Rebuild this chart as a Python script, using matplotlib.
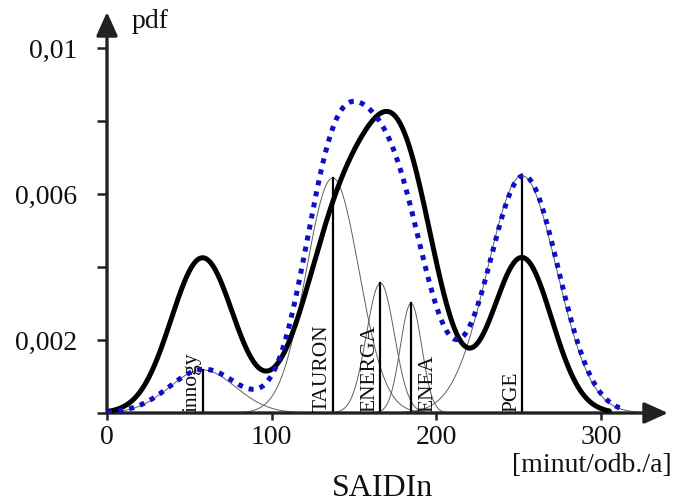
import numpy as np
import matplotlib
matplotlib.use("Agg")
import matplotlib.pyplot as plt

# ---- data ----
operators = ['innogy', 'TAURON', 'ENERGA', 'ENEA', 'PGE']
op_mean = [58, 137, 166, 184.6, 252]
op_sd = [20, 16, 8.5, 6.5, 21]
op_peak = [0.00118, 0.00644, 0.00356, 0.00301, 0.0065]
label_side = ['left', 'left', 'left', 'right', 'left']

# black solid curve: mixture components (mean, sd, peak height)
black_mean = [58, 142, 179, 252]
black_sd = [19, 22, 20.5, 18]
black_peak = [0.00425, 0.0051, 0.0066, 0.00425]

# blue dotted curve: mixture components
blue_mean = [59, 137, 172, 253]
blue_sd = [21, 18.5, 21, 21]
blue_peak = [0.0012, 0.0062, 0.0064, 0.0065]

x_ticks = [0, 100, 200, 300]
x_ticklabels = ['0', '100', '200', '300']
y_ticks = [0, 0.002, 0.004, 0.006, 0.008, 0.01]
y_ticklabels = ['', '0,002', '', '0,006', '', '0,01']


def bump(x, m, s, h):
    return h * np.exp(-(x - m) ** 2 / (2 * s ** 2))


def mixture(x, means, sds, peaks):
    return sum(bump(x, m, s, h) for m, s, h in zip(means, sds, peaks))


serif = 'Liberation Serif'
axc = '#222222'

fig = plt.figure(figsize=(6.75, 5.04), dpi=100)
ax = fig.add_axes([107 / 675, 91 / 504, 561 / 675, 401 / 504])
ax.set_xlim(0, 340.6)
ax.set_ylim(0, 0.010986)
for sp in ax.spines.values():
    sp.set_visible(False)
ax.patch.set_alpha(0)

# thin component curves and vertical mean lines
for name, m, s, h, side in zip(operators, op_mean, op_sd, op_peak, label_side):
    xs = np.linspace(max(0, m - 3.6 * s), m + 3.6 * s, 300)
    ax.plot(xs, bump(xs, m, s, h), color='#606060', lw=0.7, zorder=2)
    ax.plot([m, m], [0, h], color='black', lw=1.6, zorder=3)
    if side == 'left':
        ax.annotate(name, xy=(m, 0), xytext=(-0.5, 1), textcoords='offset points',
                    rotation=90, ha='right', va='bottom', fontsize=15.5,
                    family=serif, color='#111111', zorder=4)
    else:
        ax.annotate(name, xy=(m, 0), xytext=(5, 1), textcoords='offset points',
                    rotation=90, ha='left', va='bottom', fontsize=15.5,
                    family=serif, color='#111111', zorder=4)

xb = np.linspace(0, 305, 700)
ax.plot(xb, mixture(xb, black_mean, black_sd, black_peak), color='black',
        lw=3.6, solid_capstyle='round', zorder=5)
xu = np.linspace(0, 313, 700)
ax.plot(xu, mixture(xu, blue_mean, blue_sd, blue_peak), color='#0e0ec8',
        lw=3.6, linestyle=(0, (1, 1.25)), zorder=6)

# axes with arrows
arrow = dict(arrowstyle='-|>,head_length=0.8,head_width=0.36', mutation_scale=18,
             lw=2.4, color=axc, shrinkA=0, shrinkB=0)
ax.annotate('', xy=(0, 1), xycoords='axes fraction', xytext=(0, 0),
            textcoords='axes fraction', arrowprops=arrow, annotation_clip=False)
ax.annotate('', xy=(1, 0), xycoords='axes fraction', xytext=(0, 0),
            textcoords='axes fraction', arrowprops=arrow, annotation_clip=False)

ax.set_xticks(x_ticks)
ax.set_xticklabels(x_ticklabels, family=serif, fontsize=20, color='#111111')
ax.set_yticks(y_ticks)
ax.set_yticklabels(y_ticklabels, family=serif, fontsize=20, color='#111111')
ax.tick_params(axis='x', direction='out', length=5, width=1.8, color=axc, pad=4)
ax.tick_params(axis='y', direction='out', length=7.2, width=1.8, color=axc, pad=14)

fig.text(132 / 675, 1 - 22 / 504, 'pdf', family=serif, fontsize=20,
         va='center', ha='left', color='#111111')
fig.text(672 / 675, 1 - 465 / 504, '[minut/odb./a]', family=serif, fontsize=20,
         va='center', ha='right', color='#111111')
fig.text(383 / 675, 1 - 496 / 504, 'SAIDIn', family=serif, fontsize=23,
         va='baseline', ha='center', color='#111111')

fig.savefig('out.png', dpi=100)
